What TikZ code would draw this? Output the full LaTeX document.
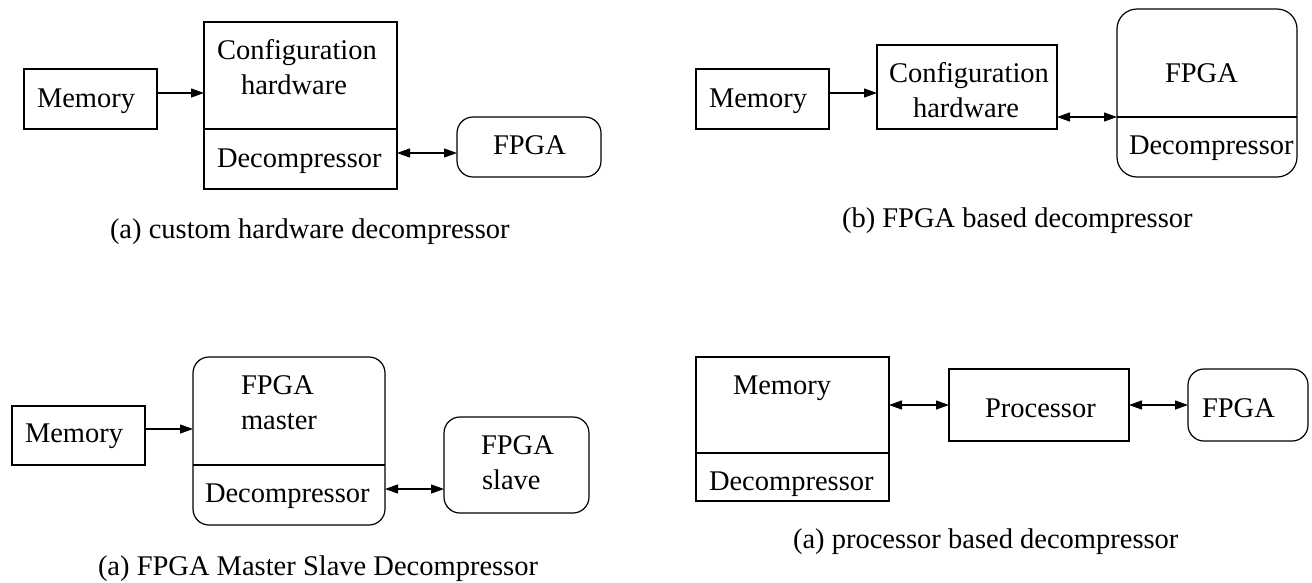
\documentclass[tikz,border=0pt]{standalone}
\usepackage{fontspec}
\setmainfont{Liberation Serif}
\usetikzlibrary{arrows.meta}

\begin{document}
\begin{tikzpicture}[x=1pt,y=-1pt,
  line width=1.2pt,
  box/.style={draw, rectangle, inner sep=0pt, outer sep=0pt},
  rbox/.style={box, rounded corners=16pt},
  txt/.style={anchor=base west, inner sep=0pt, outer sep=0pt,
              font=\fontsize{28.5}{34}\selectfont},
  tip/.style={-{Triangle[length=13pt,width=9pt]}},
  bitip/.style={{Triangle[length=13pt,width=9pt]}-{Triangle[length=13pt,width=9pt]}}]
\useasboundingbox (0,0) rectangle (1312,582);

% ---------- custom hardware decompressor ----------
\node[box, minimum width=133pt, minimum height=60pt] (memA) at (90.5,99) {};
\node[box, minimum width=193pt, minimum height=167pt] (cfgA) at (300.5,105.5) {};
\node[rbox, minimum width=144pt, minimum height=60pt] (fpgaA) at (529,147) {};
\draw (cfgA.west |- 0,129) -- (cfgA.east |- 0,129);
\node[txt] (tmemA) at (37,107) {Memory};
\node[txt] (tcfgA1) at (217,59) {Configuration};
\node[txt] (tcfgA2) at (241,94) {hardware};
\node[txt] (tdecA) at (217,167) {Decompressor};
\node[txt] (tfpgaA) at (493,154) {FPGA};
\node[txt] (capA) at (110,238) {(a) custom hardware decompressor};
\draw[tip] (memA.east |- 0,93) -- (cfgA.west |- 0,93);
\draw[bitip] (cfgA.east |- 0,153) -- (fpgaA.west |- 0,153);

% ---------- FPGA based decompressor ----------
\node[box, minimum width=133pt, minimum height=60pt] (memB) at (762.5,99) {};
\node[box, minimum width=180pt, minimum height=84pt] (cfgB) at (967,87) {};
\node[box, rounded corners=20pt, minimum width=180pt, minimum height=168pt] (fpgaB) at (1207,93) {};
\draw (fpgaB.west |- 0,117) -- (fpgaB.east |- 0,117);
\node[txt] (tmemB) at (709,107) {Memory};
\node[txt] (tcfgB1) at (889,82) {Configuration};
\node[txt] (tcfgB2) at (913,117) {hardware};
\node[txt] (tfpgaB) at (1165,82) {FPGA};
\node[txt] (tdecB) at (1129,154) {Decompressor};
\node[txt] (capB) at (842,227) {(b) FPGA based decompressor};
\draw[tip] (memB.east |- 0,93) -- (cfgB.west |- 0,93);
\draw[bitip] (cfgB.east |- 0,117) -- (fpgaB.west |- 0,117);

% ---------- FPGA master / slave ----------
\node[box, minimum width=133pt, minimum height=59pt] (memC) at (78.5,435.5) {};
\node[rbox, minimum width=192pt, minimum height=168pt] (mstC) at (289,441) {};
\node[rbox, minimum width=145pt, minimum height=96pt] (slvC) at (516.5,465) {};
\draw (mstC.west |- 0,465) -- (mstC.east |- 0,465);
\node[txt] (tmemC) at (25,442) {Memory};
\node[txt] (tmstC1) at (241,394) {FPGA};
\node[txt] (tmstC2) at (241,429) {master};
\node[txt] (tdecC) at (205,502) {Decompressor};
\node[txt] (tslvC1) at (481,454) {FPGA};
\node[txt] (tslvC2) at (482,489) {slave};
\node[txt] (capC) at (98,575) {(a) FPGA Master Slave Decompressor};
\draw[tip] (memC.east |- 0,429) -- (mstC.west |- 0,429);
\draw[bitip] (mstC.east |- 0,489) -- (slvC.west |- 0,489);

% ---------- processor based decompressor ----------
\node[box, minimum width=193pt, minimum height=144pt] (memD) at (792.5,429) {};
\node[box, minimum width=180pt, minimum height=72pt] (procD) at (1039,405) {};
\node[rbox, minimum width=120pt, minimum height=72pt] (fpgaD) at (1248,405) {};
\draw (memD.west |- 0,453) -- (memD.east |- 0,453);
\node[txt] (tmemD) at (733,394) {Memory};
\node[txt] (tdecD) at (709,490) {Decompressor};
\node[txt] (tprocD) at (985,417) {Processor};
\node[txt] (tfpgaD) at (1202,417) {FPGA};
\node[txt] (capD) at (793,548) {(a) processor based decompressor};
\draw[bitip] (memD.east |- 0,405) -- (procD.west |- 0,405);
\draw[bitip] (procD.east |- 0,405) -- (fpgaD.west |- 0,405);
\end{tikzpicture}
\end{document}
